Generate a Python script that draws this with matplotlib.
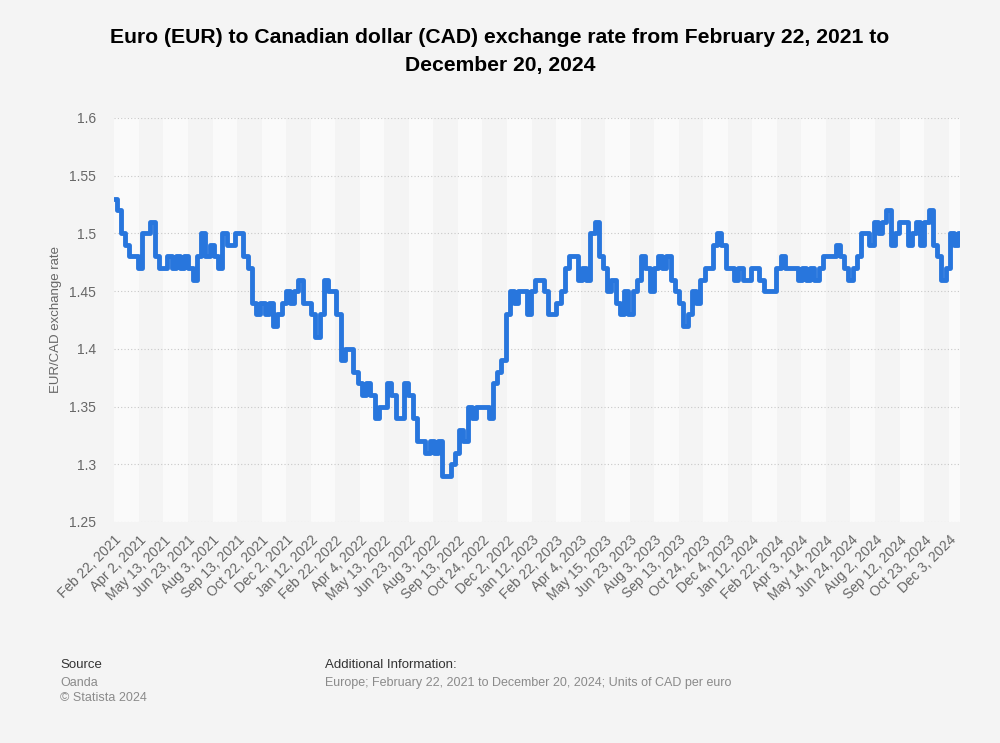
"""EUR/CAD exchange rate, Feb 2021 - Dec 2024 (Statista-style line chart)."""

import matplotlib

matplotlib.use("Agg")
import matplotlib.pyplot as plt
import numpy as np
import pandas as pd

plt.rcParams["font.family"] = ["Liberation Sans", "DejaVu Sans"]

# business-day calendar of the series (x axis is categorical, one slot per trading day)
first_day = "2021-02-22"
last_day = "2024-12-20"
tick_step = 29  # one labelled tick every 29 trading days

tick_labels = [
    "Feb 22, 2021", "Apr 2, 2021", "May 13, 2021", "Jun 23, 2021", "Aug 3, 2021",
    "Sep 13, 2021", "Oct 22, 2021", "Dec 2, 2021", "Jan 12, 2022", "Feb 22, 2022",
    "Apr 4, 2022", "May 13, 2022", "Jun 23, 2022", "Aug 3, 2022", "Sep 13, 2022",
    "Oct 24, 2022", "Dec 2, 2022", "Jan 12, 2023", "Feb 22, 2023", "Apr 4, 2023",
    "May 15, 2023", "Jun 23, 2023", "Aug 3, 2023", "Sep 13, 2023", "Oct 24, 2023",
    "Dec 4, 2023", "Jan 12, 2024", "Feb 22, 2024", "Apr 3, 2024", "May 14, 2024",
    "Jun 24, 2024", "Aug 2, 2024", "Sep 12, 2024", "Oct 23, 2024", "Dec 3, 2024",
]

# rate every 5th trading day, plus the final day
weekly_rate = [
    1.53, 1.52, 1.50, 1.49, 1.48, 1.48, 1.47, 1.50, 1.50, 1.51,
    1.48, 1.47, 1.47, 1.48, 1.47, 1.48, 1.47, 1.48, 1.47, 1.46,
    1.48, 1.50, 1.48, 1.49, 1.48, 1.47, 1.50, 1.49, 1.49, 1.50,
    1.50, 1.48, 1.47, 1.44, 1.43, 1.44, 1.43, 1.44, 1.42, 1.43,
    1.44, 1.45, 1.44, 1.45, 1.46, 1.44, 1.44, 1.43, 1.41, 1.43,
    1.46, 1.45, 1.45, 1.43, 1.39, 1.40, 1.40, 1.38, 1.37, 1.36,
    1.37, 1.36, 1.34, 1.35, 1.35, 1.37, 1.36, 1.34, 1.34, 1.37,
    1.36, 1.34, 1.32, 1.32, 1.31, 1.32, 1.31, 1.32, 1.29, 1.29,
    1.30, 1.31, 1.33, 1.32, 1.35, 1.34, 1.35, 1.35, 1.35, 1.34,
    1.37, 1.38, 1.39, 1.43, 1.45, 1.44, 1.45, 1.45, 1.43, 1.45,
    1.46, 1.46, 1.45, 1.43, 1.43, 1.44, 1.45, 1.47, 1.48, 1.48,
    1.46, 1.47, 1.46, 1.50, 1.51, 1.48, 1.47, 1.45, 1.46, 1.44,
    1.43, 1.45, 1.43, 1.45, 1.46, 1.48, 1.47, 1.45, 1.47, 1.48,
    1.47, 1.48, 1.46, 1.45, 1.44, 1.42, 1.43, 1.45, 1.44, 1.46,
    1.47, 1.47, 1.49, 1.50, 1.49, 1.47, 1.47, 1.46, 1.47, 1.46,
    1.46, 1.47, 1.47, 1.46, 1.45, 1.45, 1.45, 1.47, 1.48, 1.47,
    1.47, 1.47, 1.46, 1.47, 1.46, 1.47, 1.46, 1.47, 1.48, 1.48,
    1.48, 1.49, 1.48, 1.47, 1.46, 1.47, 1.48, 1.50, 1.50, 1.49,
    1.51, 1.50, 1.51, 1.52, 1.49, 1.50, 1.51, 1.51, 1.49, 1.50,
    1.51, 1.49, 1.51, 1.52, 1.49, 1.48, 1.46, 1.47, 1.50, 1.49,
    1.50,
]

y_ticks = [1.25, 1.3, 1.35, 1.4, 1.45, 1.5, 1.55, 1.6]

title = ("Euro (EUR) to Canadian dollar (CAD) exchange rate from February 22, 2021 to\n"
         "December 20, 2024")
y_label = "EUR/CAD exchange rate"
source_lines = ["Oanda", "\u00a9 Statista 2024"]
info_line = "Europe; February 22, 2021 to December 20, 2024; Units of CAD per euro"

BLUE = "#2876dd"
GREY_TXT = "#666666"
BG = "#f4f4f4"


def main() -> None:
    days = pd.bdate_range(first_day, last_day)
    sample_days = days[::5].append(days[-1:])
    x = days.get_indexer(sample_days)
    n_days = len(days)

    fig = plt.figure(figsize=(10, 7.43), dpi=100, facecolor=BG)
    ax = fig.add_axes([0.114, 0.2975, 0.846, 0.5437])
    ax.set_facecolor("#fafafa")

    # alternating column shading, one band per tick interval
    for k in range(len(tick_labels)):
        if k % 2 == 1:
            ax.axvspan(k * tick_step, min((k + 1) * tick_step, n_days), color=BG, lw=0, zorder=0)

    for y in y_ticks:
        ax.axhline(y, color="#c8c8c8", lw=0.8, ls=(0, (1, 2)), zorder=1)

    ax.plot(x, weekly_rate, color=BLUE, lw=3.5, drawstyle="steps-mid",
            solid_joinstyle="round", solid_capstyle="round", zorder=3)

    ax.set_xlim(-0.5, n_days - 0.5)
    ax.set_ylim(1.25, 1.6)
    ax.set_yticks(y_ticks)
    ax.set_yticklabels([f"{v:g}" for v in y_ticks])
    ax.set_xticks(np.arange(len(tick_labels)) * tick_step)
    ax.set_xticklabels(tick_labels, rotation=45, ha="right", rotation_mode="anchor")
    ax.tick_params(axis="x", length=0, pad=8, labelsize=10, labelcolor=GREY_TXT)
    ax.tick_params(axis="y", length=0, pad=13, labelsize=10, labelcolor=GREY_TXT)
    for s in ax.spines.values():
        s.set_visible(False)
    ax.set_ylabel(y_label, color=GREY_TXT, fontsize=9.5, labelpad=0)
    ax.yaxis.set_label_coords(-0.062, 0.5)

    fig.text(0.5, 0.931, title, ha="center", va="center", fontsize=15.2,
             fontweight="bold", color="#000000", linespacing=1.62)

    fig.text(0.06, 0.105, "Source", fontsize=9.5, color="#333333", va="center")
    for j, line in enumerate(source_lines):
        fig.text(0.06, 0.081 - j * 0.021, line, fontsize=9, color="#8a8a8a", va="center")
    fig.text(0.325, 0.105, "Additional Information:", fontsize=9.5, color="#333333", va="center")
    fig.text(0.325, 0.081, info_line, fontsize=9, color="#8a8a8a", va="center")

    fig.savefig("out.png", dpi=100, facecolor=BG)
    plt.close(fig)


if __name__ == "__main__":
    main()
